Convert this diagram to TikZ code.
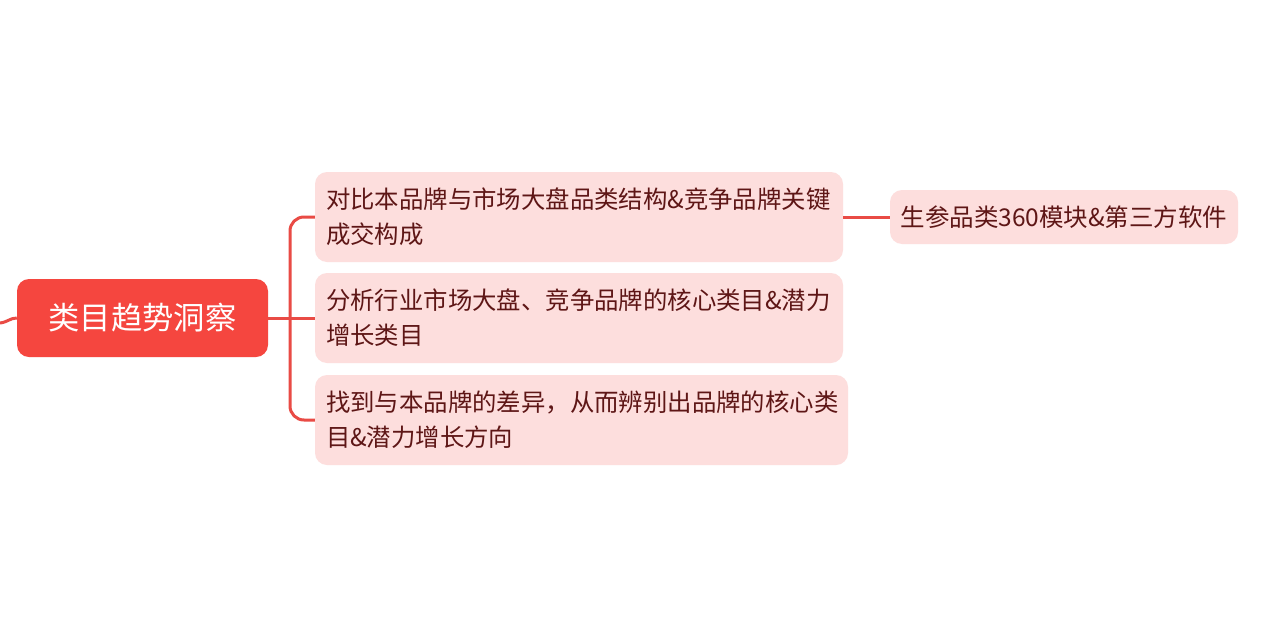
\documentclass[tikz,border=0pt]{standalone}
\usepackage{fontspec}
\setmainfont{Noto Sans CJK SC}
\begin{document}
\begin{tikzpicture}[x=1pt,y=-1pt,
  line/.style={draw=linered,line width=3pt},
  rootbox/.style={fill=rootred,rounded corners=12pt,minimum width=251pt,minimum height=78pt,inner sep=0pt,text=white,font=\fontsize{31.3}{36}\selectfont},
  childbox/.style={fill=pinkbg,rounded corners=12pt,minimum height=90pt,inner xsep=11pt,inner ysep=0pt,text=textred,align=left,font=\fontsize{24.4}{35}\selectfont},
  leafbox/.style={fill=pinkbg,rounded corners=12pt,minimum width=348pt,minimum height=54pt,inner sep=0pt,text=textred,font=\fontsize{24.5}{30}\selectfont}]
\definecolor{rootred}{HTML}{F5463F}
\definecolor{linered}{HTML}{E94B45}
\definecolor{pinkbg}{HTML}{FDDEDD}
\definecolor{textred}{HTML}{5E1616}
\useasboundingbox[fill=white] (0,0) rectangle (1280,640);
\node[rootbox] (root) at (142.5,318) {类目趋势洞察};
\node[childbox,minimum width=528pt,text width=506pt] (c1) at (579,217) {对比本品牌与市场大盘品类结构\&竞争品牌关键\\成交构成};
\node[childbox,minimum width=528pt,text width=506pt] (c2) at (579,318) {分析行业市场大盘、竞争品牌的核心类目\&潜力\\增长类目};
\node[childbox,minimum width=533pt,text width=511pt] (c3) at (581.5,420) {找到与本品牌的差异，从而辨别出品牌的核心类\\目\&潜力增长方向};
\node[leafbox] (leaf) at (1064,217) {生参品类360模块\&第三方软件};
\coordinate (j) at (290,318);
\coordinate (lin) at (0,323);
\draw[line] (lin) .. controls (8,322) and (10,318) .. (root.west);
\draw[line] (root.east) -- (c2.west);
\draw[line,rounded corners=14pt] (j) |- (c1.west);
\draw[line,rounded corners=14pt] (j) |- (c3.west);
\draw[line] (c1.east) -- (leaf.west);
\end{tikzpicture}
\end{document}
